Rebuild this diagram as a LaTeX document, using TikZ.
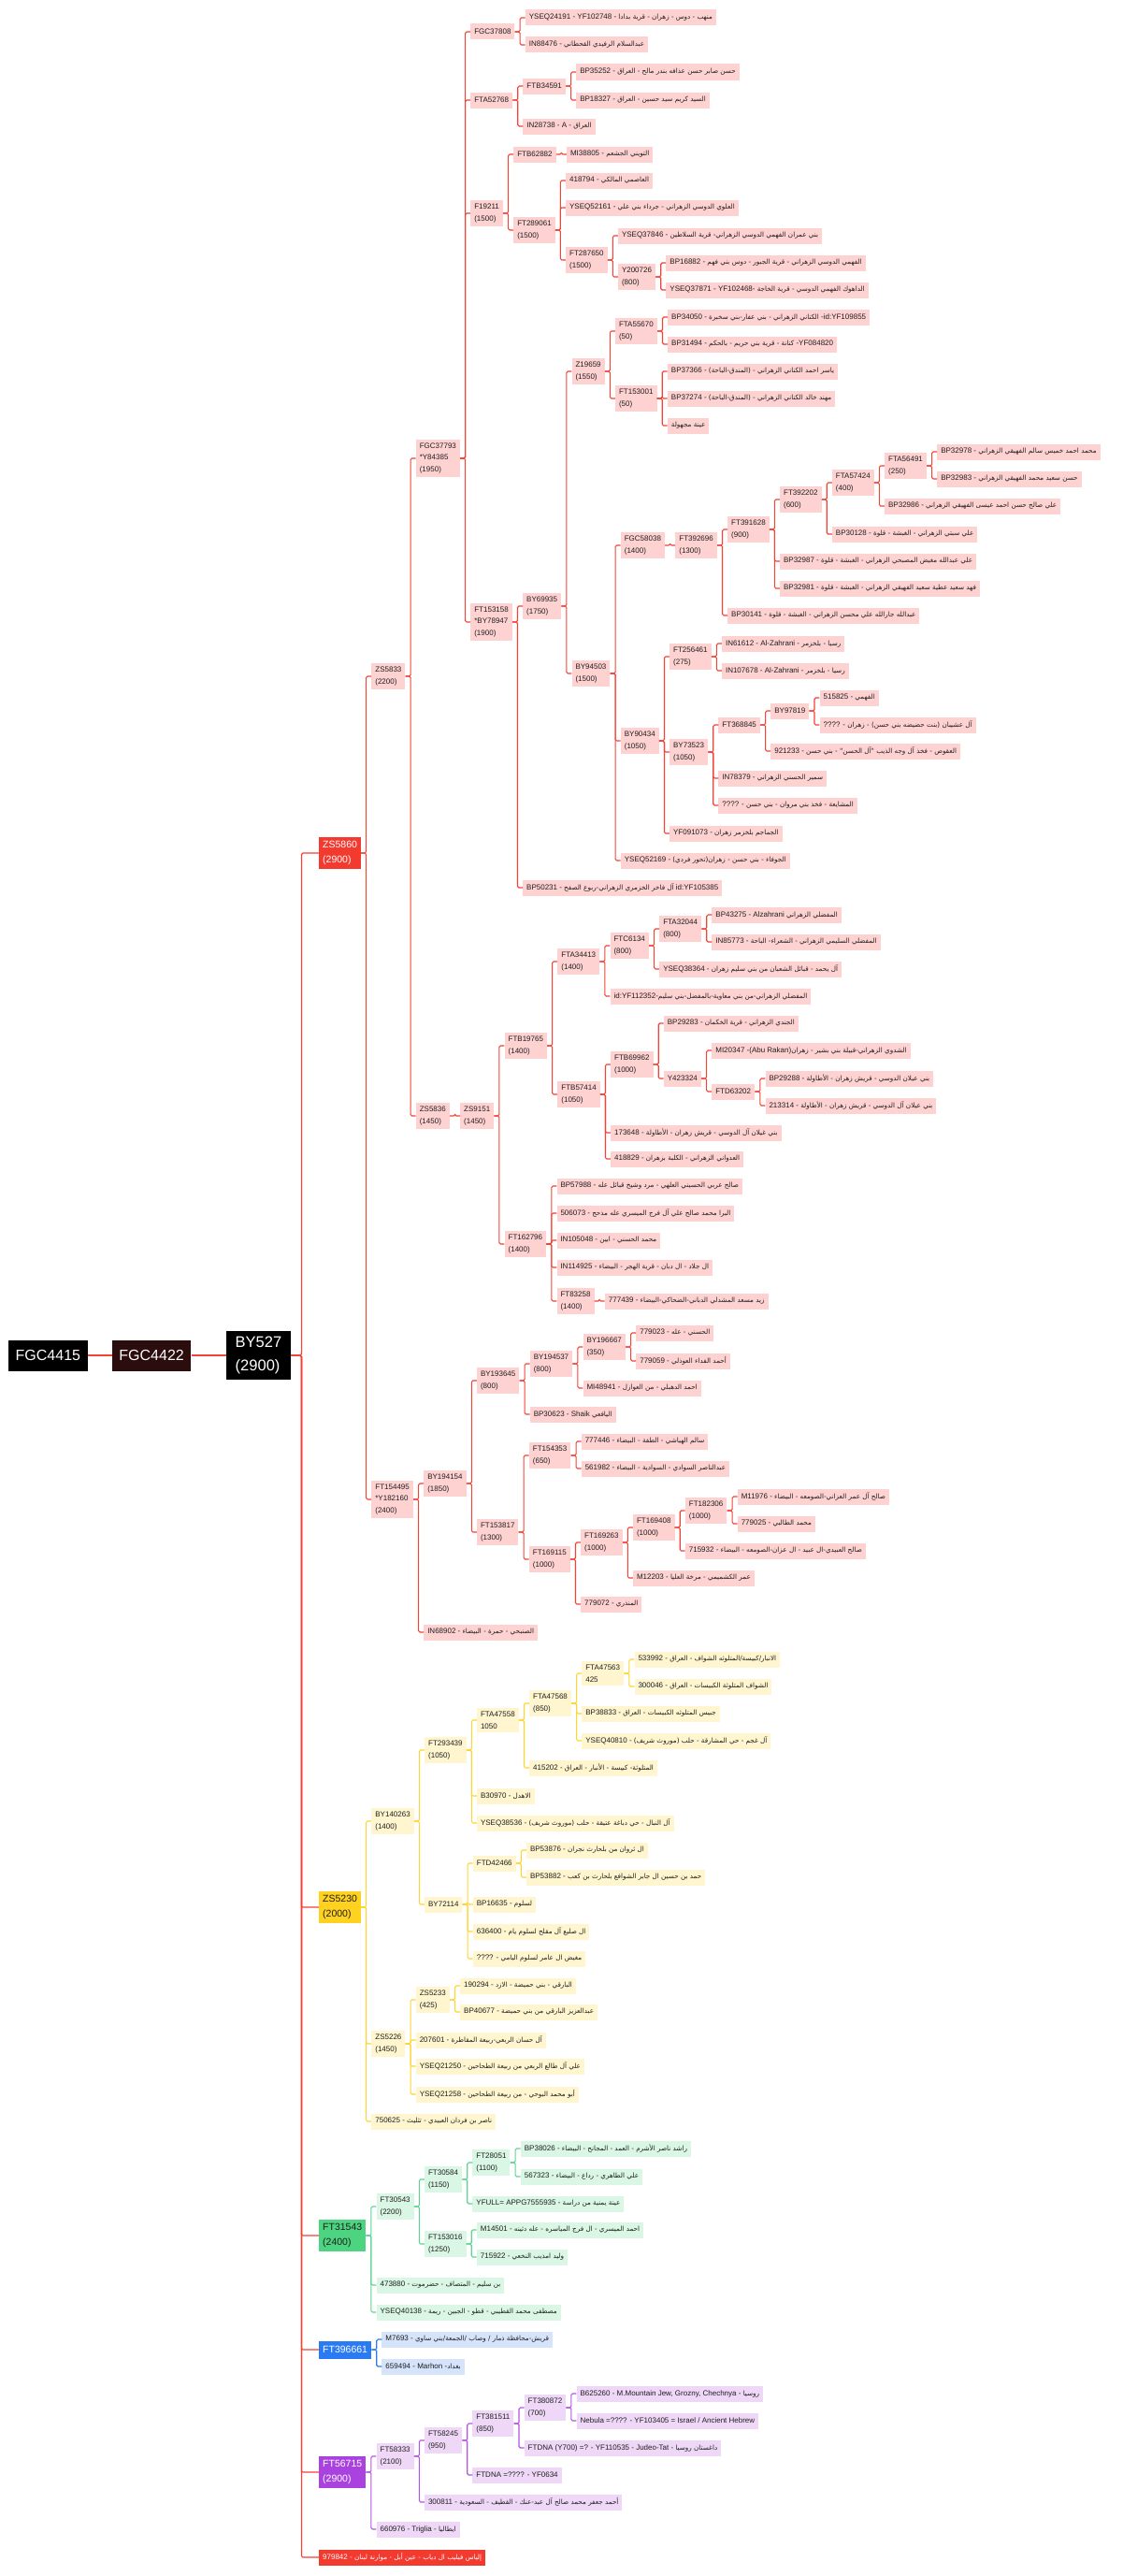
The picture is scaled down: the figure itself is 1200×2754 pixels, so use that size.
\documentclass[tikz,border=0pt]{standalone}
\usepackage{fontspec}
\setmainfont{Liberation Sans}
\newfontfamily\arfont[Script=Arabic,Scale=0.9]{DejaVu Sans}
\TeXXeTstate=1
\usetikzlibrary{positioning}
\definecolor{ZRline}{HTML}{F44336}
\definecolor{ZRfill}{HTML}{FFD2D2}
\definecolor{ZRtop}{HTML}{F33A2F}
\definecolor{ZYline}{HTML}{FFD52E}
\definecolor{ZYfill}{HTML}{FFF6D0}
\definecolor{ZYtop}{HTML}{FFD21F}
\definecolor{ZGline}{HTML}{5BD690}
\definecolor{ZGfill}{HTML}{DAF6E5}
\definecolor{ZGtop}{HTML}{4DD480}
\definecolor{ZBline}{HTML}{2B7CF2}
\definecolor{ZBfill}{HTML}{D5E4FB}
\definecolor{ZBtop}{HTML}{2A7BF3}
\definecolor{ZPline}{HTML}{B553E6}
\definecolor{ZPfill}{HTML}{EFD8F7}
\definecolor{ZPtop}{HTML}{A942DF}
\definecolor{ZRoot}{HTML}{2B0D0D}
\definecolor{Ink}{HTML}{1E1E1E}
\newcommand{\arb}[1]{{\arfont\beginR #1\endR}}
\newcommand{\treefont}{\fontsize{8}{12.5}\selectfont}
\newcommand{\branchfont}{\fontsize{10.5}{16.5}\selectfont}
\newcommand{\hubfont}{\fontsize{16.5}{25}\selectfont}
\newcommand{\stemfont}{\fontsize{16}{20}\selectfont}
\tikzset{
  leaf/.style={inner xsep=4pt, inner ysep=4pt, minimum height=17pt, align=left, font=\treefont, text=Ink},
  rbox/.style={leaf, fill=ZRfill},
  ybox/.style={leaf, fill=ZYfill},
  gbox/.style={leaf, fill=ZGfill},
  bbox/.style={leaf, fill=ZBfill},
  pbox/.style={leaf, fill=ZPfill},
  rlink/.style={draw=ZRline, line width=1.1pt, rounded corners=1.5pt},
  ylink/.style={draw=ZYline, line width=1.1pt, rounded corners=1.5pt},
  glink/.style={draw=ZGline, line width=1.1pt, rounded corners=1.5pt},
  blink/.style={draw=ZBline, line width=1.1pt, rounded corners=1.5pt},
  plink/.style={draw=ZPline, line width=1.1pt, rounded corners=1.5pt},
  branchbox/.style={inner xsep=4pt, inner ysep=4pt, minimum height=19pt, align=left, font=\branchfont, text=Ink},
  hubbox/.style={fill=black, text=white, inner xsep=10pt, inner ysep=6pt, align=left, font=\hubfont},
  stembox/.style={text=white, inner xsep=7.5pt, minimum height=33pt, font=\stemfont}
}
% child node: style, link, name, parent, y, text
\newcommand{\kid}[6]{%
  \path (#4.east) ++(11pt,0) coordinate (k);
  \node[#1, anchor=west] (#3) at (k |- 0,#5) {#6};
  \draw[#2] (#4.east) -- ++(5.5pt,0) |- (#3.west);
}
\newcommand{\rk}{\kid{rbox}{rlink}}
\newcommand{\yk}{\kid{ybox}{ylink}}
\newcommand{\gk}{\kid{gbox}{glink}}
\newcommand{\bk}{\kid{bbox}{blink}}
\newcommand{\pk}{\kid{pbox}{plink}}

\begin{document}
\begin{tikzpicture}[x=1pt, y=-1pt]
  \fill[white] (0,0) rectangle (1200,2754);
  \useasboundingbox (0,0) rectangle (1200,2754);

  % root line
  \node[stembox, fill=black, anchor=west] (FGC4415) at (9,1449) {FGC4415};
  \node[stembox, fill=ZRoot, right=26pt of FGC4415] (FGC4422) {FGC4422};
  \node[hubbox, right=37pt of FGC4422] (BY527) {BY527\\(2900)};
  \draw[rlink] (FGC4415) -- (FGC4422);
  \draw[rlink] (FGC4422) -- (BY527);

  \node[branchbox, fill=ZRtop, text=white, anchor=west] (ZS5860) at (341,912) {ZS5860\\(2900)};
  \node[branchbox, fill=ZYtop, anchor=west] (ZS5230) at (341,2039) {ZS5230\\(2000)};
  \node[branchbox, fill=ZGtop, anchor=west] (FT31543) at (341,2390) {FT31543\\(2400)};
  \node[branchbox, fill=ZBtop, text=white, anchor=west] (FT396661) at (341,2512) {FT396661};
  \node[branchbox, fill=ZPtop, text=white, anchor=west] (FT56715) at (341,2643) {FT56715\\(2900)};
  \node[leaf, fill=ZRtop, text=white, anchor=west] (n979842) at (341,2734) {979842 - \arb{إلياس فيليب ال دياب - عين أبل - موارنة لبنان}};
  \foreach \b in {ZS5860,ZS5230,FT31543,FT396661,FT56715,n979842}
    \draw[rlink] (BY527.east) -- ++(11pt,0) |- (\b.west);

  % ZS5860
  \rk{ZS5833}{ZS5860}{723}{ZS5833\\(2200)}
  \rk{FGC37793}{ZS5833}{490}{FGC37793\\*Y84385\\(1950)}
  \rk{FGC37808}{FGC37793}{34}{FGC37808}
  \rk{YSEQ24191}{FGC37808}{19}{YSEQ24191 - YF102748 - \arb{منهب - دوس - زهران - قرية بدادا}}
  \rk{IN88476}{FGC37808}{48}{IN88476 - \arb{عبدالسلام الرفيدي القحطاني}}
  \rk{FTA52768}{FGC37793}{107}{FTA52768}
  \rk{FTB34591}{FTA52768}{92}{FTB34591}
  \rk{BP35252}{FTB34591}{77}{BP35252 - \arb{حسن صابر حسن عذافه بندر مالح - العراق}}
  \rk{BP18327}{FTB34591}{107}{BP18327 - \arb{السيد كريم سيد حسين - العراق}}
  \rk{IN28738}{FTA52768}{135}{IN28738 - A - \arb{العراق}}
  \rk{F19211}{FGC37793}{228}{F19211\\(1500)}
  \rk{FTB62882}{F19211}{165}{FTB62882}
  \rk{MI38805}{FTB62882}{165}{MI38805 - \arb{التويني الجشعم}}
  \rk{FT289061}{F19211}{246}{FT289061\\(1500)}
  \rk{n418794}{FT289061}{193}{418794 - \arb{العاصمي المالكي}}
  \rk{YSEQ52161}{FT289061}{222}{YSEQ52161 - \arb{العلوي الدوسي الزهراني - جرداء بني علي}}
  \rk{FT287650}{FT289061}{278}{FT287650\\(1500)}
  \rk{YSEQ37846}{FT287650}{252}{YSEQ37846 - \arb{بني عمران الفهمي الدوسي الزهراني- قرية السلاطين}}
  \rk{Y200726}{FT287650}{296}{Y200726\\(800)}
  \rk{BP16882}{Y200726}{281}{BP16882 - \arb{الفهمي الدوسي الزهراني - قرية الجبور - دوس بني فهم}}
  \rk{YSEQ37871}{Y200726}{310}{YSEQ37871 - YF102468- \arb{الداهوك الفهمي الدوسي - قرية الخاجة}}
  \rk{FT153158}{FGC37793}{665}{FT153158\\*BY78947\\(1900)}
  \rk{BY69935}{FT153158}{648}{BY69935\\(1750)}
  \rk{Z19659}{BY69935}{397}{Z19659\\(1550)}
  \rk{FTA55670}{Z19659}{354}{FTA55670\\(50)}
  \rk{BP34050}{FTA55670}{339}{BP34050 - \arb{الكتاني الزهراني - بني عفار-بني سخبرة} -id:YF109855}
  \rk{BP31494}{FTA55670}{368}{BP31494 - \arb{كنانة - قرية بني حريم - بالحكم} -YF084820}
  \rk{FT153001}{Z19659}{426}{FT153001\\(50)}
  \rk{BP37366}{FT153001}{397}{BP37366 - \arb{ياسر احمد الكناني الزهراني - (المندق-الباحة)}}
  \rk{BP37274}{FT153001}{426}{BP37274 - \arb{مهند خالد الكناني الزهراني - (المندق-الباحة)}}
  \rk{unk1}{FT153001}{455}{\arb{عينة مجهولة}}
  \rk{BY94503}{BY69935}{720}{BY94503\\(1500)}
  \rk{FGC58038}{BY94503}{583}{FGC58038\\(1400)}
  \rk{FT392696}{FGC58038}{583}{FT392696\\(1300)}
  \rk{FT391628}{FT392696}{566}{FT391628\\(900)}
  \rk{FT392202}{FT391628}{534}{FT392202\\(600)}
  \rk{FTA57424}{FT392202}{516}{FTA57424\\(400)}
  \rk{FTA56491}{FTA57424}{498}{FTA56491\\(250)}
  \rk{BP32978}{FTA56491}{483}{BP32978 - \arb{محمد احمد خميس سالم الفهيقي الزهراني}}
  \rk{BP32983}{FTA56491}{512}{BP32983 - \arb{حسن سعيد محمد الفهيقي الزهراني}}
  \rk{BP32986}{FTA57424}{541}{BP32986 - \arb{علي صالح حسن احمد عيسى الفهيقي الزهراني}}
  \rk{BP30128}{FT392202}{571}{BP30128 - \arb{علي سبتي الزهراني - الغبشة - قلوة}}
  \rk{BP32987}{FT391628}{600}{BP32987 - \arb{علي عبدالله مغيض المصبحي الزهراني - الغبشة - قلوة}}
  \rk{BP32981}{FT391628}{629}{BP32981 - \arb{فهد سعيد عطية سعيد الفهيقي الزهراني - الغبشة - قلوة}}
  \rk{BP30141}{FT392696}{658}{BP30141 - \arb{عبدالله جارالله علي محسن الزهراني - الغبشة - قلوة}}
  \rk{BY90434}{BY94503}{792}{BY90434\\(1050)}
  \rk{FT256461}{BY90434}{702}{FT256461\\(275)}
  \rk{IN61612}{FT256461}{688}{IN61612 - Al-Zahrani - \arb{رسيا - بلخزمر}}
  \rk{IN107678}{FT256461}{717}{IN107678 - Al-Zahrani - \arb{رسيا - بلخزمر}}
  \rk{BY73523}{BY90434}{804}{BY73523\\(1050)}
  \rk{FT368845}{BY73523}{775}{FT368845}
  \rk{BY97819}{FT368845}{760}{BY97819}
  \rk{n515825}{BY97819}{746}{515825 - \arb{الفهمي}}
  \rk{unk2}{BY97819}{775}{???? - \arb{آل عشيبان (بنت حضيضه بني حسن) - زهران}}
  \rk{n921233}{FT368845}{803}{921233 - \arb{العقوص - فخذ آل وجه الذيب "آل الحسن" - بني حسن}}
  \rk{IN78379}{BY73523}{832}{IN78379 - \arb{سمير الحسني الزهراني}}
  \rk{unk3}{BY73523}{861}{???? - \arb{المشايعة - فخذ بني مروان - بني حسن}}
  \rk{YF091073}{BY90434}{891}{YF091073 - \arb{الجماجم بلخزمر زهران}}
  \rk{YSEQ52169}{BY94503}{920}{YSEQ52169 - \arb{الجوفاء - بني حسن - زهران(تحور فردي)}}
  \rk{BP50231}{FT153158}{949}{BP50231 - \arb{آل فاخر الخزمري الزهراني-ربوع الصفح} id:YF105385}
  \rk{ZS5836}{ZS5833}{1193}{ZS5836\\(1450)}
  \rk{ZS9151}{ZS5836}{1193}{ZS9151\\(1450)}
  \rk{FTB19765}{ZS9151}{1118}{FTB19765\\(1400)}
  \rk{FTA34413}{FTB19765}{1028}{FTA34413\\(1400)}
  \rk{FTC6134}{FTA34413}{1011}{FTC6134\\(800)}
  \rk{FTA32044}{FTC6134}{993}{FTA32044\\(800)}
  \rk{BP43275}{FTA32044}{978}{BP43275 - Alzahrani \arb{المفضلي الزهراني}}
  \rk{IN85773}{FTA32044}{1007}{IN85773 - \arb{المفضلي السليمي الزهراني - الشعراء- الباحة}}
  \rk{YSEQ38364}{FTC6134}{1036}{YSEQ38364 - \arb{آل يحمد - قبائل الشعبان من بني سليم زهران}}
  \rk{YF112352}{FTA34413}{1065}{id:YF112352-\arb{المفضلي الزهراني-من بني معاوية-بالمفضل-بني سليم}}
  \rk{FTB57414}{FTB19765}{1170}{FTB57414\\(1050)}
  \rk{FTB69962}{FTB57414}{1138}{FTB69962\\(1000)}
  \rk{BP29283}{FTB69962}{1094}{BP29283 - \arb{الجندي الزهراني - قرية الخكمان}}
  \rk{Y423324}{FTB69962}{1153}{Y423324}
  \rk{MI20347}{Y423324}{1123}{MI20347 -(Abu Rakan)\arb{الشدوي الزهراني-قبيلة بني بشير - زهران}}
  \rk{FTD63202}{Y423324}{1167}{FTD63202}
  \rk{BP29288}{FTD63202}{1153}{BP29288 - \arb{بني عيلان الدوسي - قريش زهران - الأطاولة}}
  \rk{n213314}{FTD63202}{1182}{213314 - \arb{بني عيلان آل الدوسي - قريش زهران - الأطاولة}}
  \rk{n173648}{FTB57414}{1211}{173648 - \arb{بني غيلان آل الدوسي - قريش زهران - الأطاولة}}
  \rk{n418829}{FTB57414}{1239}{418829 - \arb{العدواني الزهراني - الكلبة بزهران}}
  \rk{FT162796}{ZS9151}{1330}{FT162796\\(1400)}
  \rk{BP57988}{FT162796}{1268}{BP57988 - \arb{صالح عربي الحسيني العلهي - مرد وشيخ قبائل عله}}
  \rk{n506073}{FT162796}{1297}{506073 - \arb{البرا محمد صالح علي آل فرج الميسري عله مذحج}}
  \rk{IN105048}{FT162796}{1326}{IN105048 - \arb{محمد الحسني - ابين}}
  \rk{IN114925}{FT162796}{1355}{IN114925 - \arb{ال جلاد - ال دبان - قرية الهجر - البيضاء}}
  \rk{FT83258}{FT162796}{1391}{FT83258\\(1400)}
  \rk{n777439}{FT83258}{1391}{777439 - \arb{زيد مسعد المشدلي الدباني-الضحاكي-البيضاء}}
  \rk{FT154495}{ZS5860}{1603}{FT154495\\*Y182160\\(2400)}
  \rk{BY194154}{FT154495}{1586}{BY194154\\(1850)}
  \rk{BY193645}{BY194154}{1476}{BY193645\\(800)}
  \rk{BY194537}{BY193645}{1458}{BY194537\\(800)}
  \rk{BY196667}{BY194537}{1440}{BY196667\\(350)}
  \rk{n779023}{BY196667}{1425}{779023 - \arb{الحسني - عله}}
  \rk{n779059}{BY196667}{1455}{779059 - \arb{أحمد الفداء العوذلي}}
  \rk{MI48941}{BY194537}{1484}{MI48941 - \arb{احمد الدهبلي - من العوازل}}
  \rk{BP30623}{BY193645}{1512}{BP30623 - Shaik \arb{اليافعي}}
  \rk{FT153817}{BY194154}{1638}{FT153817\\(1300)}
  \rk{FT154353}{FT153817}{1556}{FT154353\\(650)}
  \rk{n777446}{FT154353}{1541}{777446 - \arb{سالم الهياشي - الطفة - البيضاء}}
  \rk{n561982}{FT154353}{1570}{561982 - \arb{عبدالناصر السوادي - السوادية - البيضاء}}
  \rk{FT169115}{FT153817}{1667}{FT169115\\(1000)}
  \rk{FT169263}{FT169115}{1649}{FT169263\\(1000)}
  \rk{FT169408}{FT169263}{1633}{FT169408\\(1000)}
  \rk{FT182306}{FT169408}{1615}{FT182306\\(1000)}
  \rk{M11976}{FT182306}{1600}{M11976 - \arb{صالح آل عمر العزاني-الصومعه - البيضاء}}
  \rk{n779025}{FT182306}{1629}{779025 - \arb{محمد الطالبي}}
  \rk{n715932}{FT169408}{1658}{715932 - \arb{صالح العبيدي-ال عبيد - ال عزان-الصومعه - البيضاء}}
  \rk{M12203}{FT169263}{1687}{M12203 - \arb{عمر الكشميمي - مرخة العليا}}
  \rk{n779072}{FT169115}{1715}{779072 - \arb{المنذري}}
  \rk{IN68902}{FT154495}{1745}{IN68902 - \arb{الصنبحي - حمرة - البيضاء}}

  % ZS5230
  \yk{BY140263}{ZS5230}{1947}{BY140263\\(1400)}
  \yk{FT293439}{BY140263}{1871}{FT293439\\(1050)}
  \yk{FTA47558}{FT293439}{1839}{FTA47558\\1050}
  \yk{FTA47568}{FTA47558}{1821}{FTA47568\\(850)}
  \yk{FTA47563}{FTA47568}{1789}{FTA47563\\425}
  \yk{n533992}{FTA47563}{1774}{533992 - \arb{الانبار/كبيسة/المتلوثه الشواف - العراق}}
  \yk{n300046}{FTA47563}{1803}{300046 - \arb{الشواف المتلوثة الكبيسات - العراق}}
  \yk{BP38833}{FTA47568}{1832}{BP38833 - \arb{جبيس المتلوثه الكبيسات - العراق}}
  \yk{YSEQ40810}{FTA47568}{1861}{YSEQ40810 - \arb{آل غجم - حي المشارقة - حلب (موروث شريف)}}
  \yk{n415202}{FTA47558}{1890}{415202 - \arb{المتلوثة- كبيسة - الأنبار - العراق}}
  \yk{B30970}{FT293439}{1920}{B30970 - \arb{الاهدل}}
  \yk{YSEQ38536}{FT293439}{1949}{YSEQ38536 - \arb{آل النبال - حي دباغة عتيقة - حلب (موروث شريف)}}
  \yk{BY72114}{BY140263}{2036}{BY72114}
  \yk{FTD42466}{BY72114}{1992}{FTD42466}
  \yk{BP53876}{FTD42466}{1978}{BP53876 - \arb{ال ثروان من بلحارث نجران}}
  \yk{BP53882}{FTD42466}{2007}{BP53882 - \arb{حمد بن حسين ال جابر الشوافع بلحارث بن كعب}}
  \yk{BP16635}{BY72114}{2036}{BP16635 - \arb{لسلوم}}
  \yk{n636400}{BY72114}{2065}{636400 - \arb{ال صليع آل مقلح لسلوم يام}}
  \yk{unk4}{BY72114}{2094}{???? - \arb{مغيض ال عامر لسلوم اليامي}}
  \yk{ZS5226}{ZS5230}{2185}{ZS5226\\(1450)}
  \yk{ZS5233}{ZS5226}{2138}{ZS5233\\(425)}
  \yk{n190294}{ZS5233}{2123}{190294 - \arb{البارقي - بني حميضة - الازد}}
  \yk{BP40677}{ZS5233}{2151}{BP40677 - \arb{عبدالعزيز البارقي من بني حميضة}}
  \yk{n207601}{ZS5226}{2181}{207601 - \arb{آل حسان الربعي-ربيعة المقاطرة}}
  \yk{YSEQ21250}{ZS5226}{2209}{YSEQ21250 - \arb{علي آل طالع الربعي من ربيعة الطحاحين}}
  \yk{YSEQ21258}{ZS5226}{2239}{YSEQ21258 - \arb{أبو محمد البوحي - من ربيعة الطحاحين}}
  \yk{n750625}{ZS5230}{2268}{750625 - \arb{ناصر بن فردان العبيدي - تثليث}}

  % FT31543
  \gk{FT30543}{FT31543}{2359}{FT30543\\(2200)}
  \gk{FT30584}{FT30543}{2330}{FT30584\\(1150)}
  \gk{FT28051}{FT30584}{2312}{FT28051\\(1100)}
  \gk{BP38026}{FT28051}{2297}{BP38026 - \arb{راشد ناصر الأشرم - العمد - المجانح - البيضاء}}
  \gk{n567323}{FT28051}{2327}{567323 - \arb{علي الطاهري - رداع - البيضاء}}
  \gk{APPG7555935}{FT30584}{2356}{YFULL= APPG7555935 - \arb{عينة يمنية من دراسة}}
  \gk{FT153016}{FT30543}{2399}{FT153016\\(1250)}
  \gk{M14501}{FT153016}{2384}{M14501 - \arb{احمد الميسري - ال فرج المياسره - عله دثينه}}
  \gk{n715922}{FT153016}{2413}{715922 - \arb{وليد امذيب النخعي}}
  \gk{n473880}{FT31543}{2443}{473880 - \arb{بن سليم - المتصاف - حضرموت}}
  \gk{YSEQ40138}{FT31543}{2472}{YSEQ40138 - \arb{مصطفى محمد القطيبي - قطو - الجبين - ريمة}}

  % FT396661
  \bk{M7693}{FT396661}{2501}{M7693 - \arb{قريش-محافظة ذمار / وصاب /الجمعة/بني ساوي}}
  \bk{n659494}{FT396661}{2530}{659494 - Marhon -\arb{بغداد}}

  % FT56715
  \pk{FT58333}{FT56715}{2626}{FT58333\\(2100)}
  \pk{FT58245}{FT58333}{2609}{FT58245\\(950)}
  \pk{FT381511}{FT58245}{2591}{FT381511\\(850)}
  \pk{FT380872}{FT381511}{2574}{FT380872\\(700)}
  \pk{B625260}{FT380872}{2559}{B625260 - M.Mountain Jew, Grozny, Chechnya - \arb{روسيا}}
  \pk{Nebula}{FT380872}{2588}{Nebula =???? - YF103405 = Israel / Ancient Hebrew}
  \pk{YF110535}{FT381511}{2617}{FTDNA (Y700) =? - YF110535 - Judeo-Tat - \arb{داغستان روسيا}}
  \pk{YF0634}{FT58245}{2646}{FTDNA =???? - YF0634}
  \pk{n300811}{FT58333}{2675}{300811 - \arb{أحمد جعفر محمد صالح آل عبد-عنك - القطيف - السعودية}}
  \pk{n660976}{FT56715}{2704}{660976 - Triglia - \arb{ايطاليا}}
\end{tikzpicture}
\end{document}
